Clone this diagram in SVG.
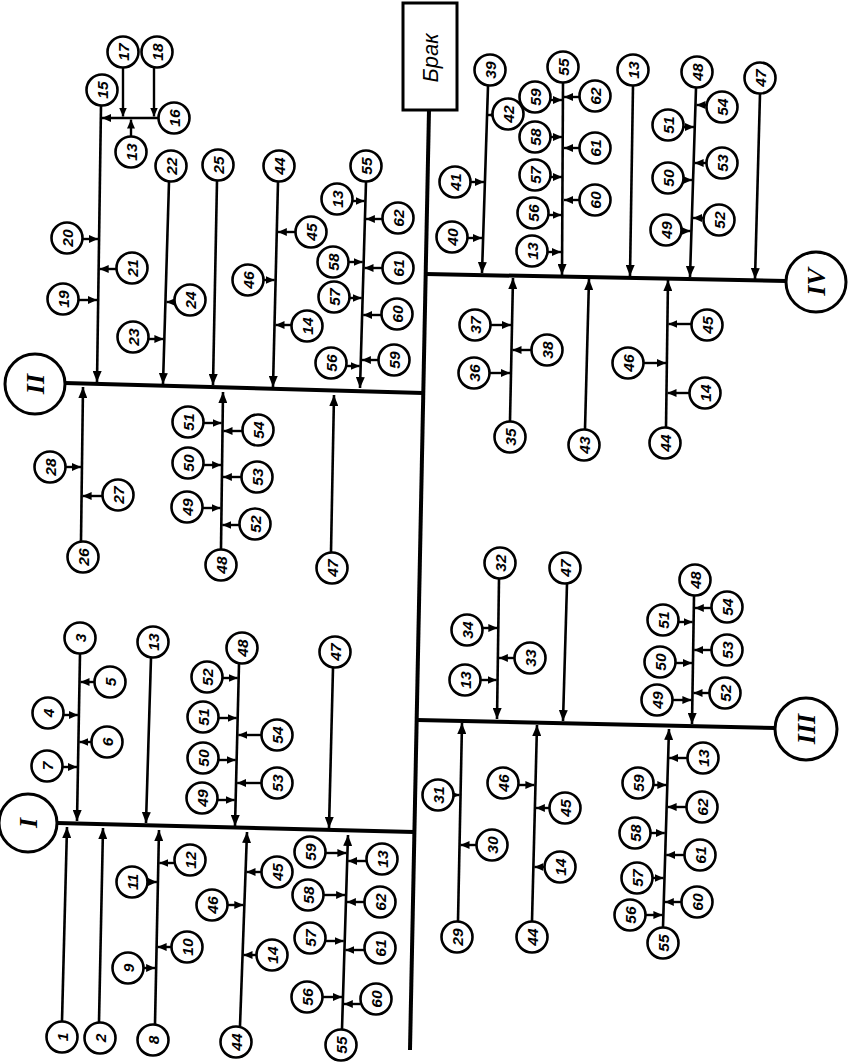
<svg xmlns="http://www.w3.org/2000/svg" width="850" height="1064" viewBox="0 0 850 1064">
<style>
.c{fill:#fff;stroke:#000;stroke-width:2.6}
.R{fill:#fff;stroke:#000;stroke-width:3}
.t{font-family:"Liberation Sans",Arial,sans-serif;font-style:italic;font-weight:bold;font-size:15.5px;text-anchor:middle;dominant-baseline:central}
.rt{font-family:"Liberation Serif","Times New Roman",serif;font-style:italic;font-weight:bold;font-size:26px;text-anchor:middle;dominant-baseline:central}
.bt{font-family:"Liberation Sans",Arial,sans-serif;font-style:italic;font-size:22px;text-anchor:middle;dominant-baseline:central}
.m{stroke:#000;stroke-width:4;fill:none}
.r{stroke:#000;stroke-width:2.6;fill:none;marker-end:url(#ah)}
.s{stroke:#000;stroke-width:2.4;fill:none;marker-end:url(#as)}
</style>
<defs>
<marker id="ah" viewBox="0 0 11 9" refX="11" refY="4.5" markerWidth="11" markerHeight="9" markerUnits="userSpaceOnUse" orient="auto"><path d="M0,0L11,4.5L0,9z"/></marker>
<marker id="as" viewBox="0 0 9 8" refX="9" refY="4" markerWidth="9" markerHeight="8" markerUnits="userSpaceOnUse" orient="auto"><path d="M0,0L9,4L0,8z"/></marker>
</defs>
<rect width="850" height="1064" fill="#fff"/>
<g id="connectors">
<path class="m" d="M429,110L410,1050"/>
<path class="m" d="M426,274L786,281"/>
<path class="m" d="M65,383L423,393"/>
<path class="m" d="M417,720L775,728"/>
<path class="m" d="M57,823L414,832"/>
<path class="r" d="M488,86L482,273"/>
<path class="s" d="M492.5,115H488"/>
<path class="s" d="M470.5,182H484"/>
<path class="s" d="M467.5,238H482"/>
<path class="r" d="M563,83L562,275"/>
<path class="s" d="M550.5,100H562"/>
<path class="s" d="M550.5,137H562"/>
<path class="s" d="M550.5,177H562"/>
<path class="s" d="M548.5,215H561.5"/>
<path class="s" d="M547.5,252H561"/>
<path class="s" d="M579.5,97H564"/>
<path class="s" d="M579.5,148H564"/>
<path class="s" d="M579.5,200H564"/>
<path class="r" d="M633,86L630,276"/>
<path class="r" d="M696,88L690,277"/>
<path class="s" d="M706.5,105H696.5"/>
<path class="s" d="M706.5,163H694.6"/>
<path class="s" d="M703.5,218H693"/>
<path class="s" d="M683.5,127H694"/>
<path class="s" d="M683.5,180H692"/>
<path class="s" d="M681.5,231H690.5"/>
<path class="r" d="M760,94L755,279"/>
<path class="r" d="M510,421L513,278"/>
<path class="s" d="M490.5,325H511"/>
<path class="s" d="M531.5,350H512.5"/>
<path class="s" d="M489.5,373H510"/>
<path class="r" d="M585,429L589,279"/>
<path class="r" d="M666,427L668,280"/>
<path class="s" d="M691.5,324H668.4"/>
<path class="s" d="M643.5,363H666"/>
<path class="s" d="M689.5,393H667.5"/>
<path class="r" d="M101,106L97,382"/>
<path class="s" d="M158.5,118H102"/>
<path class="s" d="M123,68V116.5"/>
<path class="s" d="M154,68V116.5"/>
<path class="s" d="M131,136.5V119.5"/>
<path class="s" d="M82.5,239H98"/>
<path class="s" d="M116.5,269H99.7"/>
<path class="s" d="M78.5,300H97"/>
<path class="r" d="M169,182L163,384"/>
<path class="s" d="M174.5,302H166.5"/>
<path class="s" d="M148.5,339H163.4"/>
<path class="r" d="M217,181L213,385"/>
<path class="r" d="M278,182L273,387"/>
<path class="s" d="M295.5,232H277.8"/>
<path class="s" d="M263.5,280H274.6"/>
<path class="s" d="M291.5,325H275.5"/>
<path class="r" d="M366,182L360,388"/>
<path class="s" d="M352.5,201H364.5"/>
<path class="s" d="M348.5,262H362.7"/>
<path class="s" d="M349.5,298H361.7"/>
<path class="s" d="M346.5,366H359.7"/>
<path class="s" d="M382.5,219H365.9"/>
<path class="s" d="M382.5,268H364.5"/>
<path class="s" d="M381.5,315H363.2"/>
<path class="s" d="M378.5,360H361.9"/>
<path class="r" d="M81,541L83,387"/>
<path class="s" d="M65.5,467H81"/>
<path class="s" d="M102.5,496H82.6"/>
<path class="r" d="M221,549L223,392"/>
<path class="s" d="M203.5,423H221.6"/>
<path class="s" d="M203.5,465H221.1"/>
<path class="s" d="M202.5,508H220.5"/>
<path class="s" d="M242.5,431H223.5"/>
<path class="s" d="M241.5,477H222.9"/>
<path class="s" d="M239.5,525H222.3"/>
<path class="r" d="M331,552L334,395"/>
<path class="r" d="M499,579L497,719"/>
<path class="s" d="M482.5,628H497.3"/>
<path class="s" d="M514.5,658H498.9"/>
<path class="s" d="M480.5,680H496.6"/>
<path class="r" d="M567,584L563,721"/>
<path class="r" d="M694,596L692,724"/>
<path class="s" d="M711.5,608H694.8"/>
<path class="s" d="M711.5,650H694.2"/>
<path class="s" d="M709.5,693H693.5"/>
<path class="s" d="M678.5,622H692.6"/>
<path class="s" d="M675.5,663H692"/>
<path class="s" d="M672.5,700H691.4"/>
<path class="r" d="M458,921L462,723"/>
<path class="s" d="M453.5,795H459.5"/>
<path class="s" d="M476.5,845H460.5"/>
<path class="r" d="M532,921L537,725"/>
<path class="s" d="M518.5,785H534.4"/>
<path class="s" d="M549.5,808H535.9"/>
<path class="s" d="M544.5,867H534.4"/>
<path class="r" d="M663,927L669,729"/>
<path class="s" d="M687.5,758H669.1"/>
<path class="s" d="M686.5,807H667.6"/>
<path class="s" d="M684.5,855H666.2"/>
<path class="s" d="M681.5,902H664.8"/>
<path class="s" d="M653.5,785H666.3"/>
<path class="s" d="M650.5,833H664.8"/>
<path class="s" d="M652.5,878H663.5"/>
<path class="s" d="M645.5,915H662.4"/>
<path class="r" d="M80,654L77,821"/>
<path class="s" d="M94.5,682H80.5"/>
<path class="s" d="M63.5,715H77.9"/>
<path class="s" d="M91.5,742H79.4"/>
<path class="s" d="M62.5,767H77"/>
<path class="r" d="M151,658L146,823"/>
<path class="r" d="M239,664L235,826"/>
<path class="s" d="M222.5,678H237.7"/>
<path class="s" d="M218.5,718H236.7"/>
<path class="s" d="M218.5,760H235.7"/>
<path class="s" d="M217.5,800H234.7"/>
<path class="s" d="M261.5,735H238.3"/>
<path class="s" d="M261.5,783H237.1"/>
<path class="r" d="M333,668L329,828"/>
<path class="r" d="M62,1021L67,827"/>
<path class="r" d="M99,1022L103,828"/>
<path class="r" d="M155,1024L159,830"/>
<path class="s" d="M174.5,863H159.3"/>
<path class="s" d="M147.5,882H156.9"/>
<path class="s" d="M171.5,947H157.6"/>
<path class="s" d="M143.5,968H155.1"/>
<path class="r" d="M240,1026L247,832"/>
<path class="s" d="M261.5,872H246.5"/>
<path class="s" d="M227.5,905H243.3"/>
<path class="s" d="M256.5,955H243.5"/>
<path class="r" d="M342,1029L348,835"/>
<path class="s" d="M325.5,853H346.4"/>
<path class="s" d="M323.5,895H345.1"/>
<path class="s" d="M325.5,941H343.7"/>
<path class="s" d="M322.5,997H342"/>
<path class="s" d="M366.5,861H348.1"/>
<path class="s" d="M364.5,902H346.9"/>
<path class="s" d="M364.5,950H345.4"/>
<path class="s" d="M360.5,1004H343.8"/>
</g>
<g id="nodes">
<g id="brak"><rect x="403" y="3" width="54" height="107" fill="#fff" stroke="#000" stroke-width="3"/><text class="bt" transform="translate(430,58) rotate(-90)">Брак</text></g>
<g id="cI" transform="translate(28,823)"><circle class="R" r="29"/><text class="rt" transform="rotate(-90)">I</text></g>
<g id="cII" transform="translate(35,384)"><circle class="R" r="30"/><text class="rt" transform="rotate(-90)">II</text></g>
<g id="cIII" transform="translate(806,729)"><circle class="R" r="31"/><text class="rt" transform="rotate(-90)">III</text></g>
<g id="cIV" transform="translate(816,282)"><circle class="R" r="30"/><text class="rt" transform="rotate(-90)">IV</text></g>
<g id="IV-39" transform="translate(490,70)"><circle class="c" r="15.5"/><text class="t" transform="rotate(-90)">39</text></g>
<g id="IV-42" transform="translate(508,114)"><circle class="c" r="15.5"/><text class="t" transform="rotate(-90)">42</text></g>
<g id="IV-41" transform="translate(455,182)"><circle class="c" r="15.5"/><text class="t" transform="rotate(-90)">41</text></g>
<g id="IV-40" transform="translate(452,237)"><circle class="c" r="15.5"/><text class="t" transform="rotate(-90)">40</text></g>
<g id="IV-55" transform="translate(563,67)"><circle class="c" r="15.5"/><text class="t" transform="rotate(-90)">55</text></g>
<g id="IV-59" transform="translate(535,97)"><circle class="c" r="15.5"/><text class="t" transform="rotate(-90)">59</text></g>
<g id="IV-58" transform="translate(535,137)"><circle class="c" r="15.5"/><text class="t" transform="rotate(-90)">58</text></g>
<g id="IV-57" transform="translate(535,175)"><circle class="c" r="15.5"/><text class="t" transform="rotate(-90)">57</text></g>
<g id="IV-56" transform="translate(533,213)"><circle class="c" r="15.5"/><text class="t" transform="rotate(-90)">56</text></g>
<g id="IV-13a" transform="translate(532,251)"><circle class="c" r="15.5"/><text class="t" transform="rotate(-90)">13</text></g>
<g id="IV-62" transform="translate(595,96)"><circle class="c" r="15.5"/><text class="t" transform="rotate(-90)">62</text></g>
<g id="IV-61" transform="translate(595,148)"><circle class="c" r="15.5"/><text class="t" transform="rotate(-90)">61</text></g>
<g id="IV-60" transform="translate(595,200)"><circle class="c" r="15.5"/><text class="t" transform="rotate(-90)">60</text></g>
<g id="IV-13" transform="translate(633,70)"><circle class="c" r="15.5"/><text class="t" transform="rotate(-90)">13</text></g>
<g id="IV-48" transform="translate(697,72)"><circle class="c" r="15.5"/><text class="t" transform="rotate(-90)">48</text></g>
<g id="IV-54" transform="translate(722,107)"><circle class="c" r="15.5"/><text class="t" transform="rotate(-90)">54</text></g>
<g id="IV-53" transform="translate(722,163)"><circle class="c" r="15.5"/><text class="t" transform="rotate(-90)">53</text></g>
<g id="IV-52" transform="translate(719,220)"><circle class="c" r="15.5"/><text class="t" transform="rotate(-90)">52</text></g>
<g id="IV-51" transform="translate(668,125)"><circle class="c" r="15.5"/><text class="t" transform="rotate(-90)">51</text></g>
<g id="IV-50" transform="translate(668,178)"><circle class="c" r="15.5"/><text class="t" transform="rotate(-90)">50</text></g>
<g id="IV-49" transform="translate(666,230)"><circle class="c" r="15.5"/><text class="t" transform="rotate(-90)">49</text></g>
<g id="IV-47" transform="translate(760,78)"><circle class="c" r="15.5"/><text class="t" transform="rotate(-90)">47</text></g>
<g id="IV-35" transform="translate(510,437)"><circle class="c" r="15.5"/><text class="t" transform="rotate(-90)">35</text></g>
<g id="IV-37" transform="translate(475,325)"><circle class="c" r="15.5"/><text class="t" transform="rotate(-90)">37</text></g>
<g id="IV-38" transform="translate(547,350)"><circle class="c" r="15.5"/><text class="t" transform="rotate(-90)">38</text></g>
<g id="IV-36" transform="translate(474,373)"><circle class="c" r="15.5"/><text class="t" transform="rotate(-90)">36</text></g>
<g id="IV-43" transform="translate(584,445)"><circle class="c" r="15.5"/><text class="t" transform="rotate(-90)">43</text></g>
<g id="IV-44" transform="translate(665,443)"><circle class="c" r="15.5"/><text class="t" transform="rotate(-90)">44</text></g>
<g id="IV-45" transform="translate(707,325)"><circle class="c" r="15.5"/><text class="t" transform="rotate(-90)">45</text></g>
<g id="IV-46" transform="translate(628,363)"><circle class="c" r="15.5"/><text class="t" transform="rotate(-90)">46</text></g>
<g id="IV-14" transform="translate(705,393)"><circle class="c" r="15.5"/><text class="t" transform="rotate(-90)">14</text></g>
<g id="II-15" transform="translate(102,90)"><circle class="c" r="15.5"/><text class="t" transform="rotate(-90)">15</text></g>
<g id="II-17" transform="translate(123,52)"><circle class="c" r="15.5"/><text class="t" transform="rotate(-90)">17</text></g>
<g id="II-18" transform="translate(157,52)"><circle class="c" r="15.5"/><text class="t" transform="rotate(-90)">18</text></g>
<g id="II-16" transform="translate(174,118)"><circle class="c" r="15.5"/><text class="t" transform="rotate(-90)">16</text></g>
<g id="II-13a" transform="translate(131,152)"><circle class="c" r="15.5"/><text class="t" transform="rotate(-90)">13</text></g>
<g id="II-20" transform="translate(67,238)"><circle class="c" r="15.5"/><text class="t" transform="rotate(-90)">20</text></g>
<g id="II-21" transform="translate(132,268)"><circle class="c" r="15.5"/><text class="t" transform="rotate(-90)">21</text></g>
<g id="II-19" transform="translate(63,299)"><circle class="c" r="15.5"/><text class="t" transform="rotate(-90)">19</text></g>
<g id="II-22" transform="translate(171,166)"><circle class="c" r="15.5"/><text class="t" transform="rotate(-90)">22</text></g>
<g id="II-24" transform="translate(190,300)"><circle class="c" r="15.5"/><text class="t" transform="rotate(-90)">24</text></g>
<g id="II-23" transform="translate(133,337)"><circle class="c" r="15.5"/><text class="t" transform="rotate(-90)">23</text></g>
<g id="II-25" transform="translate(218,165)"><circle class="c" r="15.5"/><text class="t" transform="rotate(-90)">25</text></g>
<g id="II-44" transform="translate(279,166)"><circle class="c" r="15.5"/><text class="t" transform="rotate(-90)">44</text></g>
<g id="II-45" transform="translate(311,232)"><circle class="c" r="15.5"/><text class="t" transform="rotate(-90)">45</text></g>
<g id="II-46" transform="translate(248,280)"><circle class="c" r="15.5"/><text class="t" transform="rotate(-90)">46</text></g>
<g id="II-14" transform="translate(307,326)"><circle class="c" r="15.5"/><text class="t" transform="rotate(-90)">14</text></g>
<g id="II-55" transform="translate(366,166)"><circle class="c" r="15.5"/><text class="t" transform="rotate(-90)">55</text></g>
<g id="II-13" transform="translate(337,199)"><circle class="c" r="15.5"/><text class="t" transform="rotate(-90)">13</text></g>
<g id="II-58" transform="translate(333,262)"><circle class="c" r="15.5"/><text class="t" transform="rotate(-90)">58</text></g>
<g id="II-57" transform="translate(334,297)"><circle class="c" r="15.5"/><text class="t" transform="rotate(-90)">57</text></g>
<g id="II-56" transform="translate(331,363)"><circle class="c" r="15.5"/><text class="t" transform="rotate(-90)">56</text></g>
<g id="II-62" transform="translate(398,218)"><circle class="c" r="15.5"/><text class="t" transform="rotate(-90)">62</text></g>
<g id="II-61" transform="translate(398,268)"><circle class="c" r="15.5"/><text class="t" transform="rotate(-90)">61</text></g>
<g id="II-60" transform="translate(397,314)"><circle class="c" r="15.5"/><text class="t" transform="rotate(-90)">60</text></g>
<g id="II-59" transform="translate(394,360)"><circle class="c" r="15.5"/><text class="t" transform="rotate(-90)">59</text></g>
<g id="II-26" transform="translate(83,557)"><circle class="c" r="15.5"/><text class="t" transform="rotate(-90)">26</text></g>
<g id="II-28" transform="translate(50,467)"><circle class="c" r="15.5"/><text class="t" transform="rotate(-90)">28</text></g>
<g id="II-27" transform="translate(118,495)"><circle class="c" r="15.5"/><text class="t" transform="rotate(-90)">27</text></g>
<g id="II-48" transform="translate(221,565)"><circle class="c" r="15.5"/><text class="t" transform="rotate(-90)">48</text></g>
<g id="II-51" transform="translate(188,422)"><circle class="c" r="15.5"/><text class="t" transform="rotate(-90)">51</text></g>
<g id="II-50" transform="translate(188,463)"><circle class="c" r="15.5"/><text class="t" transform="rotate(-90)">50</text></g>
<g id="II-49" transform="translate(187,507)"><circle class="c" r="15.5"/><text class="t" transform="rotate(-90)">49</text></g>
<g id="II-54" transform="translate(258,430)"><circle class="c" r="15.5"/><text class="t" transform="rotate(-90)">54</text></g>
<g id="II-53" transform="translate(257,477)"><circle class="c" r="15.5"/><text class="t" transform="rotate(-90)">53</text></g>
<g id="II-52" transform="translate(255,524)"><circle class="c" r="15.5"/><text class="t" transform="rotate(-90)">52</text></g>
<g id="II-47" transform="translate(332,568)"><circle class="c" r="15.5"/><text class="t" transform="rotate(-90)">47</text></g>
<g id="III-32" transform="translate(500,563)"><circle class="c" r="15.5"/><text class="t" transform="rotate(-90)">32</text></g>
<g id="III-34" transform="translate(467,630)"><circle class="c" r="15.5"/><text class="t" transform="rotate(-90)">34</text></g>
<g id="III-33" transform="translate(530,658)"><circle class="c" r="15.5"/><text class="t" transform="rotate(-90)">33</text></g>
<g id="III-13a" transform="translate(465,680)"><circle class="c" r="15.5"/><text class="t" transform="rotate(-90)">13</text></g>
<g id="III-47" transform="translate(565,568)"><circle class="c" r="15.5"/><text class="t" transform="rotate(-90)">47</text></g>
<g id="III-48" transform="translate(695,580)"><circle class="c" r="15.5"/><text class="t" transform="rotate(-90)">48</text></g>
<g id="III-54" transform="translate(727,607)"><circle class="c" r="15.5"/><text class="t" transform="rotate(-90)">54</text></g>
<g id="III-53" transform="translate(727,650)"><circle class="c" r="15.5"/><text class="t" transform="rotate(-90)">53</text></g>
<g id="III-52" transform="translate(725,693)"><circle class="c" r="15.5"/><text class="t" transform="rotate(-90)">52</text></g>
<g id="III-51" transform="translate(663,620)"><circle class="c" r="15.5"/><text class="t" transform="rotate(-90)">51</text></g>
<g id="III-50" transform="translate(660,662)"><circle class="c" r="15.5"/><text class="t" transform="rotate(-90)">50</text></g>
<g id="III-49" transform="translate(657,700)"><circle class="c" r="15.5"/><text class="t" transform="rotate(-90)">49</text></g>
<g id="III-29" transform="translate(457,937)"><circle class="c" r="15.5"/><text class="t" transform="rotate(-90)">29</text></g>
<g id="III-31" transform="translate(438,795)"><circle class="c" r="15.5"/><text class="t" transform="rotate(-90)">31</text></g>
<g id="III-30" transform="translate(492,845)"><circle class="c" r="15.5"/><text class="t" transform="rotate(-90)">30</text></g>
<g id="III-44" transform="translate(532,937)"><circle class="c" r="15.5"/><text class="t" transform="rotate(-90)">44</text></g>
<g id="III-46" transform="translate(503,783)"><circle class="c" r="15.5"/><text class="t" transform="rotate(-90)">46</text></g>
<g id="III-45" transform="translate(565,808)"><circle class="c" r="15.5"/><text class="t" transform="rotate(-90)">45</text></g>
<g id="III-14" transform="translate(560,867)"><circle class="c" r="15.5"/><text class="t" transform="rotate(-90)">14</text></g>
<g id="III-55" transform="translate(663,943)"><circle class="c" r="15.5"/><text class="t" transform="rotate(-90)">55</text></g>
<g id="III-13" transform="translate(703,758)"><circle class="c" r="15.5"/><text class="t" transform="rotate(-90)">13</text></g>
<g id="III-62" transform="translate(702,807)"><circle class="c" r="15.5"/><text class="t" transform="rotate(-90)">62</text></g>
<g id="III-61" transform="translate(700,855)"><circle class="c" r="15.5"/><text class="t" transform="rotate(-90)">61</text></g>
<g id="III-60" transform="translate(697,902)"><circle class="c" r="15.5"/><text class="t" transform="rotate(-90)">60</text></g>
<g id="III-59" transform="translate(638,783)"><circle class="c" r="15.5"/><text class="t" transform="rotate(-90)">59</text></g>
<g id="III-58" transform="translate(635,833)"><circle class="c" r="15.5"/><text class="t" transform="rotate(-90)">58</text></g>
<g id="III-57" transform="translate(637,878)"><circle class="c" r="15.5"/><text class="t" transform="rotate(-90)">57</text></g>
<g id="III-56" transform="translate(630,915)"><circle class="c" r="15.5"/><text class="t" transform="rotate(-90)">56</text></g>
<g id="I-3" transform="translate(80,638)"><circle class="c" r="15.5"/><text class="t" transform="rotate(-90)">3</text></g>
<g id="I-5" transform="translate(110,682)"><circle class="c" r="15.5"/><text class="t" transform="rotate(-90)">5</text></g>
<g id="I-4" transform="translate(48,713)"><circle class="c" r="15.5"/><text class="t" transform="rotate(-90)">4</text></g>
<g id="I-6" transform="translate(107,742)"><circle class="c" r="15.5"/><text class="t" transform="rotate(-90)">6</text></g>
<g id="I-7" transform="translate(47,766)"><circle class="c" r="15.5"/><text class="t" transform="rotate(-90)">7</text></g>
<g id="I-13" transform="translate(153,642)"><circle class="c" r="15.5"/><text class="t" transform="rotate(-90)">13</text></g>
<g id="I-48" transform="translate(242,648)"><circle class="c" r="15.5"/><text class="t" transform="rotate(-90)">48</text></g>
<g id="I-52" transform="translate(207,677)"><circle class="c" r="15.5"/><text class="t" transform="rotate(-90)">52</text></g>
<g id="I-51" transform="translate(203,717)"><circle class="c" r="15.5"/><text class="t" transform="rotate(-90)">51</text></g>
<g id="I-50" transform="translate(203,758)"><circle class="c" r="15.5"/><text class="t" transform="rotate(-90)">50</text></g>
<g id="I-49" transform="translate(202,798)"><circle class="c" r="15.5"/><text class="t" transform="rotate(-90)">49</text></g>
<g id="I-54" transform="translate(277,735)"><circle class="c" r="15.5"/><text class="t" transform="rotate(-90)">54</text></g>
<g id="I-53" transform="translate(277,783)"><circle class="c" r="15.5"/><text class="t" transform="rotate(-90)">53</text></g>
<g id="I-47" transform="translate(335,652)"><circle class="c" r="15.5"/><text class="t" transform="rotate(-90)">47</text></g>
<g id="I-1" transform="translate(62,1037)"><circle class="c" r="15.5"/><text class="t" transform="rotate(-90)">1</text></g>
<g id="I-2" transform="translate(100,1038)"><circle class="c" r="15.5"/><text class="t" transform="rotate(-90)">2</text></g>
<g id="I-8" transform="translate(153,1040)"><circle class="c" r="15.5"/><text class="t" transform="rotate(-90)">8</text></g>
<g id="I-12" transform="translate(190,860)"><circle class="c" r="15.5"/><text class="t" transform="rotate(-90)">12</text></g>
<g id="I-11" transform="translate(132,882)"><circle class="c" r="15.5"/><text class="t" transform="rotate(-90)">11</text></g>
<g id="I-10" transform="translate(187,947)"><circle class="c" r="15.5"/><text class="t" transform="rotate(-90)">10</text></g>
<g id="I-9" transform="translate(128,968)"><circle class="c" r="15.5"/><text class="t" transform="rotate(-90)">9</text></g>
<g id="I-44" transform="translate(236,1042)"><circle class="c" r="15.5"/><text class="t" transform="rotate(-90)">44</text></g>
<g id="I-45" transform="translate(277,872)"><circle class="c" r="15.5"/><text class="t" transform="rotate(-90)">45</text></g>
<g id="I-46" transform="translate(212,905)"><circle class="c" r="15.5"/><text class="t" transform="rotate(-90)">46</text></g>
<g id="I-14" transform="translate(272,955)"><circle class="c" r="15.5"/><text class="t" transform="rotate(-90)">14</text></g>
<g id="I-55" transform="translate(341,1045)"><circle class="c" r="15.5"/><text class="t" transform="rotate(-90)">55</text></g>
<g id="I-59" transform="translate(310,852)"><circle class="c" r="15.5"/><text class="t" transform="rotate(-90)">59</text></g>
<g id="I-58" transform="translate(308,895)"><circle class="c" r="15.5"/><text class="t" transform="rotate(-90)">58</text></g>
<g id="I-57" transform="translate(310,938)"><circle class="c" r="15.5"/><text class="t" transform="rotate(-90)">57</text></g>
<g id="I-56" transform="translate(307,997)"><circle class="c" r="15.5"/><text class="t" transform="rotate(-90)">56</text></g>
<g id="I-13b" transform="translate(382,859)"><circle class="c" r="15.5"/><text class="t" transform="rotate(-90)">13</text></g>
<g id="I-62" transform="translate(380,902)"><circle class="c" r="15.5"/><text class="t" transform="rotate(-90)">62</text></g>
<g id="I-61" transform="translate(380,948)"><circle class="c" r="15.5"/><text class="t" transform="rotate(-90)">61</text></g>
<g id="I-60" transform="translate(376,999)"><circle class="c" r="15.5"/><text class="t" transform="rotate(-90)">60</text></g>
</g>
</svg>
